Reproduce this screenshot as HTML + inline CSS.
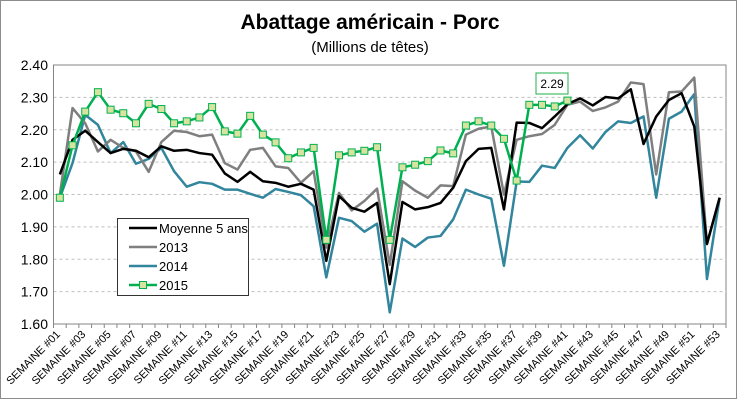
<!DOCTYPE html>
<html><head><meta charset="utf-8"><style>
body{margin:0;background:#fff;}
svg{display:block;font-family:"Liberation Sans",sans-serif;}
</style></head><body>
<svg id="chart" width="741" height="403" viewBox="0 0 741 403">
<rect x="0.5" y="0.5" width="736" height="398" fill="#fff" stroke="#8c8c8c"/>
<text x="370" y="29" text-anchor="middle" font-size="21" font-weight="bold">Abattage américain - Porc</text>
<text x="370" y="52" text-anchor="middle" font-size="15">(Millions de têtes)</text>
<g id="grid"></g><g id="axes"></g><g id="series"></g>
<g>
<rect x="536" y="73" width="32" height="21" fill="#fff" stroke="#1fb14a"/>
<text x="552" y="88" text-anchor="middle" font-size="12">2.29</text>
</g>
<g>
<rect x="117.5" y="218.5" width="131" height="77" fill="#fff" stroke="#333"/>
</g>
<g id="legend"></g>
</svg>
<script>
const weeks=[];for(let i=1;i<=53;i++)weeks.push('SEMAINE #'+String(i).padStart(2,'0'));
const yTicks=[1.60,1.70,1.80,1.90,2.00,2.10,2.20,2.30,2.40];
const moyenne=[2.062,2.169,2.197,2.162,2.128,2.141,2.135,2.115,2.149,2.135,2.138,2.128,2.123,2.065,2.039,2.070,2.041,2.036,2.024,2.033,2.015,1.795,1.995,1.959,1.947,1.974,1.723,1.977,1.954,1.961,1.974,2.021,2.103,2.141,2.144,1.954,2.222,2.221,2.205,2.241,2.279,2.297,2.275,2.301,2.297,2.325,2.156,2.241,2.292,2.313,2.210,1.848,1.990];
const y2013=[2.000,2.267,2.220,2.133,2.169,2.144,2.133,2.070,2.162,2.197,2.193,2.180,2.185,2.097,2.077,2.138,2.144,2.087,2.082,2.036,2.072,1.836,2.005,1.951,1.980,2.018,1.783,2.041,2.012,1.990,2.028,2.026,2.185,2.203,2.210,2.000,2.169,2.180,2.187,2.215,2.277,2.287,2.258,2.269,2.287,2.346,2.341,2.062,2.316,2.318,2.361,1.846,1.990];
const y2014=[1.990,2.097,2.246,2.215,2.128,2.162,2.095,2.110,2.144,2.072,2.024,2.038,2.033,2.015,2.015,2.002,1.990,2.017,2.008,1.998,1.964,1.744,1.928,1.918,1.885,1.910,1.636,1.864,1.838,1.867,1.872,1.923,2.015,2.000,1.987,1.780,2.040,2.039,2.089,2.082,2.144,2.183,2.142,2.193,2.226,2.221,2.241,1.990,2.234,2.256,2.310,1.739,1.990];
const y2015=[1.990,2.152,2.256,2.316,2.262,2.251,2.220,2.280,2.264,2.220,2.226,2.238,2.270,2.195,2.188,2.243,2.185,2.161,2.112,2.130,2.144,1.860,2.121,2.130,2.135,2.146,1.860,2.084,2.092,2.103,2.136,2.127,2.213,2.226,2.213,2.172,2.043,2.277,2.277,2.272,2.290];
const seriesNames=['Moyenne 5 ans','2013','2014','2015'];
const X0=53.5,X1=726,Y0=324,Y1=65,VMIN=1.6,VMAX=2.4;
const step=(X1-X0)/weeks.length;
const xs=i=>X0+(i+0.5)*step;
const ys=v=>Y0-(v-VMIN)/(VMAX-VMIN)*(Y0-Y1);
const NS='http://www.w3.org/2000/svg';
function mk(tag,attrs,parent){const e=document.createElementNS(NS,tag);for(const k in attrs)e.setAttribute(k,attrs[k]);parent.appendChild(e);return e;}
const grid=document.getElementById('grid'),axes=document.getElementById('axes'),ser=document.getElementById('series'),leg=document.getElementById('legend');
let frame=mk('rect',{x:X0,y:Y1,width:X1-X0,height:Y0-Y1,fill:'none',stroke:'#868686'},grid);


yTicks.forEach(t=>{
  const y=ys(t);
  if(t>VMIN&&t<VMAX){const g=mk('line',{x1:X0,x2:X1,y1:y,y2:y,stroke:'#bfbfbf','stroke-dasharray':'3,3'},grid);
  
  }
  const l=mk('text',{x:48,y:y+5,'text-anchor':'end','font-size':14},axes);l.textContent=t.toFixed(2);
  
  
});
mk('line',{x1:X0,x2:X0,y1:Y1,y2:Y0,stroke:'#868686'},axes);
for(let i=0;i<=weeks.length;i++){const x=X0+i*step;mk('line',{x1:x,x2:x,y1:Y0,y2:Y0+4,stroke:'#868686'},axes);}
weeks.forEach((w,i)=>{
  if(i%2)return;
  const x=xs(i)+1,y=Y0+11;
  const t=mk('text',{x:x,y:y,'text-anchor':'end','font-size':11,transform:`rotate(-45 ${x} ${y})`},axes);
  t.textContent=w;
  
  
});
function line(data,color,name){
  const p=mk('polyline',{points:data.map((v,i)=>xs(i)+','+ys(v)).join(' '),fill:'none',stroke:color,'stroke-width':2.5,'stroke-linejoin':'round'},ser);
  
  
}
line(y2014,'#31859c','series-2014');
line(y2013,'#7f7f7f','series-2013');
line(moyenne,'#000','series-moyenne-5-ans');
line(y2015,'#00b050','series-2015');
y2015.forEach((v,i)=>{
  const r=mk('rect',{x:xs(i)-3.5,y:ys(v)-3.5,width:7,height:7,fill:'#d7e4a0',stroke:'#00b050','stroke-width':1},ser);
  
  
});
const colors=['#000','#7f7f7f','#31859c','#00b050'];
seriesNames.forEach((n,k)=>{
  const y=228+k*19;
  mk('line',{x1:129,x2:157,y1:y,y2:y,stroke:colors[k],'stroke-width':2.5},leg);
  if(k===3){mk('rect',{x:139.5,y:y-3.5,width:7,height:7,fill:'#d7e4a0',stroke:'#00b050'},leg);}
  const t=mk('text',{x:159,y:y+5,'font-size':13},leg);t.textContent=n;
  
  
});
</script>
</body></html>
